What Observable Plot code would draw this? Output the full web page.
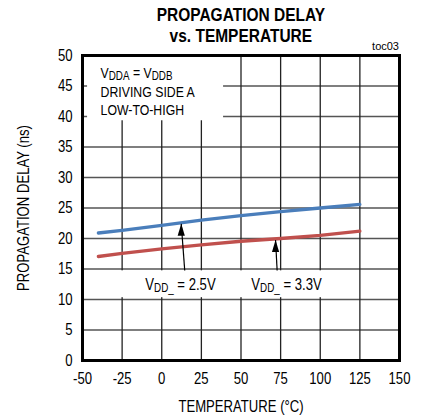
<!DOCTYPE html>
<html>
<head>
<meta charset="utf-8">
<script src="https://cdn.jsdelivr.net/npm/d3@7"></script>
<script src="https://cdn.jsdelivr.net/npm/@observablehq/plot@0.6"></script>
<style>
  html, body { margin: 0; padding: 0; background: white; }
  #wrap { width: 422px; height: 419px; position: relative; background: white; }
  #title { position: relative; height: 50px; box-sizing: border-box; padding: 5px 23px 0 82px;
    font-family: 'Liberation Sans',Arial,sans-serif;
    font-weight: bold; font-size: 18px; line-height: 21px; text-align: center; color: black; }
  #title .ln { display: inline-block; transform: scaleX(0.86); transform-origin: center; white-space: nowrap; }
  #toc { position: absolute; right: 23px; top: 41px; font-weight: normal; font-size: 11px; line-height: 11px; }
</style>
</head>
<body>
<div id="wrap">
  <div id="title"><span class="ln">PROPAGATION DELAY</span><br><span class="ln">vs. TEMPERATURE</span><span id="toc">toc03</span></div>
  <div id="chart"></div>
</div>
<script>
// ---- data ----
const temps = [-40, -25, 0, 25, 50, 75, 100, 125];
const delay25 = [20.9, 21.35, 22.15, 23.0, 23.75, 24.4, 25.0, 25.6];   // VDD_ = 2.5V (blue)
const delay33 = [17.05, 17.55, 18.3, 18.95, 19.55, 20.0, 20.5, 21.2];  // VDD_ = 3.3V (red)
const xTicks = [-50, -25, 0, 25, 50, 75, 100, 125, 150];
const yTicks = [0, 5, 10, 15, 20, 25, 30, 35, 40, 45, 50];
const seriesLabels = ["V{DD_} = 2.5V", "V{DD_} = 3.3V"];
const noteLines = ["V{DDA} = V{DDB}", "DRIVING SIDE A", "LOW-TO-HIGH"];

// ---- build tables ----
const FONT = "'Liberation Sans',Arial,sans-serif";
const SQUEEZE = 0.82;
const rows25 = temps.map((t, i) => ({t, v: delay25[i]}));
const rows33 = temps.map((t, i) => ({t, v: delay33[i]}));

// annotation geometry (data units)
const boxes = [
  {x1: -46.8, x2: 39, y1: 39.3, y2: 50},
  {x1: -31, x2: 110, y1: 10.3, y2: 14.7}
];
const arrows = [
  {x1: 14.5, y1: 14.75, x2: 12.3, y2: 22.4},
  {x1: 72.8, y1: 14.75, x2: 71.8, y2: 19.75}
];
const seriesLabelPos = [{x: 11.8, y: 12.4}, {x: 78.7, y: 12.4}];
const notePos = [{x: -38.6, y: 47.15}, {x: -38.6, y: 44.0}, {x: -38.6, y: 41.05}];

const headSymbol = {
  draw(ctx) { ctx.moveTo(0, 0); ctx.lineTo(-3.6, 12); ctx.lineTo(3.6, 12); ctx.closePath(); }
};

const chart = Plot.plot({
  width: 422, height: 369,
  marginTop: 5, marginBottom: 59, marginLeft: 82, marginRight: 23,
  x: {domain: [-50, 150]},
  y: {domain: [0, 50]},
  style: {fontFamily: FONT, fontSize: "16px", color: "black", background: "white", overflow: "visible"},
  marks: [
    Plot.gridY({ticks: yTicks, stroke: "#555", strokeOpacity: 1, strokeWidth: 1.3}),
    Plot.gridX({ticks: xTicks, stroke: "#222", strokeOpacity: 1, strokeWidth: 1.3}),
    Plot.rect(boxes, {x1: "x1", x2: "x2", y1: "y1", y2: "y2", fill: "white"}),
    Plot.line(rows25, {x: "t", y: "v", stroke: "#4a7ebb", strokeWidth: 3.3}),
    Plot.line(rows33, {x: "t", y: "v", stroke: "#c0504d", strokeWidth: 3.3}),
    Plot.link(arrows, {x1: "x1", y1: "y1", x2: "x2", y2: "y2", stroke: "black", strokeWidth: 1.2}),
    Plot.dot(arrows, {x: "x2", y: "y2", symbol: headSymbol, fill: "black", stroke: "none"}),
    Plot.text(seriesLabels, {x: (d, i) => seriesLabelPos[i].x, y: (d, i) => seriesLabelPos[i].y, text: d => d, fontSize: 16, className: "sub"}),
    Plot.text(noteLines, {x: (d, i) => notePos[i].x, y: (d, i) => notePos[i].y, text: d => d, textAnchor: "start", fontSize: 15, className: "sub"}),
    Plot.frame({stroke: "black", strokeWidth: 3}),
    Plot.axisX({ticks: xTicks, tickSize: 0, tickPadding: 12, fontSize: 16, label: null, tickFormat: d => String(d)}),
    Plot.axisY({ticks: yTicks, tickSize: 0, tickPadding: 10, fontSize: 16, label: null, tickFormat: d => String(d)}),
    Plot.text(["TEMPERATURE (°C)"], {frameAnchor: "bottom", dy: 46, lineAnchor: "middle", textAnchor: "middle", fontSize: 16}),
    Plot.text(["PROPAGATION DELAY (ns)"], {frameAnchor: "left", dx: -59, rotate: -90, textAnchor: "middle", lineAnchor: "middle", fontSize: 16})
  ]
});
document.getElementById("chart").appendChild(chart);

// subscripts: V{DDA} -> V with lowered small "DDA"
d3.select(chart).selectAll("g.sub text").each(function() {
  const s = this.textContent;
  if (!s.includes("{")) return;
  const el = d3.select(this);
  el.text(null);
  const parts = s.split(/(\{[^}]*\})/).filter(p => p.length);
  let lowered = false;
  parts.forEach(p => {
    if (p.startsWith("{")) {
      el.append("tspan").attr("dy", lowered ? 0 : 2.5).attr("font-size", 12).text(p.slice(1, -1));
      lowered = true;
    } else {
      el.append("tspan").attr("dy", lowered ? -2.5 : 0).text(p);
      lowered = false;
    }
  });
});

// condensed look (the reference uses a narrow sans face): squeeze text horizontally about its anchor
d3.select(chart).selectAll("text").each(function() {
  const t = this.getAttribute("transform") || "";
  const xa = this.getAttribute("x");
  if (xa !== null && /^-?[\d.]+$/.test(xa.trim())) this.setAttribute("x", (+xa) / SQUEEZE);
  this.setAttribute("transform", (t + ` scale(${SQUEEZE},1)`).trim());
});
</script>
</body>
</html>
